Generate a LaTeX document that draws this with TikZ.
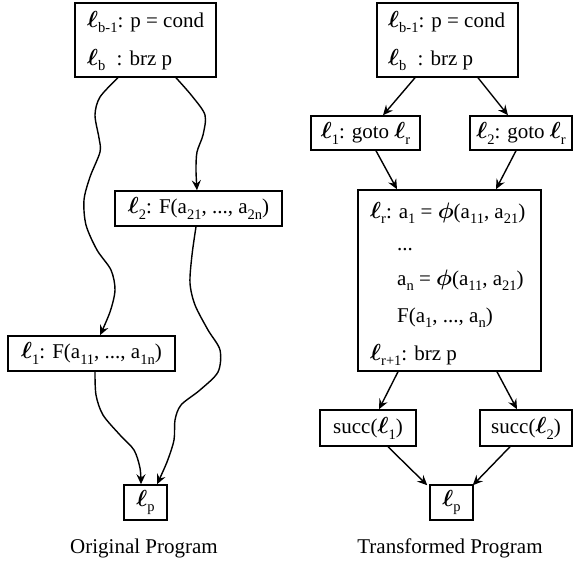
\documentclass[tikz,border=0pt]{standalone}
\usepackage{amsmath,amsbsy}
\usepackage{fontspec}
\setmainfont{Liberation Serif}
\usetikzlibrary{arrows.meta}
\newcommand\SB[1]{\raisebox{-0.28em}{\fontsize{14.5}{15}\selectfont #1}}
\newcommand\LL[1]{\scalebox{1.12}{$\boldsymbol{\ell}$}\SB{#1}}
\newcommand\PH{\scalebox{1.08}{$\boldsymbol{\phi}$}}
\begin{document}
\begin{tikzpicture}[x=1pt,y=-1pt, font=\fontsize{21}{25}\selectfont,
  box/.style={draw, line width=1.5pt, inner sep=0pt},
  arr/.style={line width=1.4pt, -{Stealth[length=10pt,width=9pt,inset=3.5pt]}},
  txt/.style={anchor=base west, inner sep=0pt}]
\useasboundingbox (0,0) rectangle (574,563);

% ---------------- Original program ----------------
\node[box, minimum width=141pt, minimum height=74pt] (topL) at (145.5,40) {};
\node[txt] (topLa) at (87,27) {\LL{b-1}: p = cond};
\node[txt] (topLb) at (87,65) {\LL{b}};
\node[txt] (topLc) at (116.5,65) {: brz p};

\node[box, minimum width=167pt, minimum height=35pt] (l2L) at (198.5,208.5)
  {\LL{2}: F(a\SB{21}, ..., a\SB{2n})};
\node[box, minimum width=167pt, minimum height=35pt] (l1L) at (91.5,353.5)
  {\LL{1}: F(a\SB{11}, ..., a\SB{1n})};
\node[box, minimum width=43pt, minimum height=35pt] (lpL) at (145.5,502.5) {\LL{p}};
\node[anchor=base, inner sep=0pt] (capL) at (144,553) {Original Program};

\coordinate (a0) at ([xshift=-27.5pt]topL.south);
\coordinate (a1) at ([xshift=8.5pt]l1L.north);
\draw[arr] plot[smooth] coordinates {(a0) (100,97) (95,115) (99,138) (100,152) (90,177)
  (84,200) (86,225) (97,250) (111,270) (115,290) (110,312) (a1)};
\coordinate (b0) at ([xshift=30.5pt]topL.south);
\coordinate (b1) at ([xshift=-1.5pt]l2L.north);
\draw[arr] plot[smooth] coordinates {(b0) (192,96) (205,115) (203,135) (197,152) (196,170) (b1)};
\coordinate (c0) at ([xshift=-2.5pt]l2L.south);
\coordinate (c1) at ([xshift=11.5pt]lpL.north);
\draw[arr] plot[smooth] coordinates {(c0) (192,255) (190,283) (195,305) (208,330) (220,350)
  (218,372) (200,390) (181,405) (175,420) (174,440) (167,462) (c1)};
\coordinate (d0) at ([xshift=3.5pt]l1L.south);
\coordinate (d1) at ([xshift=-4.5pt]lpL.north);
\draw[arr] plot[smooth] coordinates {(d0) (96,395) (103,415) (120,435) (134,450) (140,468) (d1)};

% ---------------- Transformed program ----------------
\node[box, minimum width=141pt, minimum height=74pt] (topR) at (447.5,40) {};
\node[txt] (topRa) at (388,27) {\LL{b-1}: p = cond};
\node[txt] (topRb) at (388,65) {\LL{b}};
\node[txt] (topRc) at (417.5,65) {: brz p};

\node[box, minimum width=109pt, minimum height=34pt] (g1) at (365.5,133) {\LL{1}: goto \LL{r}};
\node[box, minimum width=102pt, minimum height=34pt] (g2) at (521,133) {\LL{2}: goto \LL{r}};

\node[box, minimum width=183pt, minimum height=181pt] (big) at (449.5,280.5) {};
\node[txt] (bl1) at (370,218) {\LL{r}: a\SB{1} = \PH(a\SB{11}, a\SB{21})};
\node[txt] (bl2) at (397,250) {...};
\node[txt] (bl3) at (397,285) {a\SB{n} = \PH(a\SB{11}, a\SB{21})};
\node[txt] (bl4) at (397,322) {F(a\SB{1}, ..., a\SB{n})};
\node[txt] (bl5) at (370,360) {\LL{r+1}: brz p};

\node[box, minimum width=96pt, minimum height=36pt] (s1) at (368,428) {succ(\LL{1})};
\node[box, minimum width=92pt, minimum height=36pt] (s2) at (526,428) {succ(\LL{2})};
\node[box, minimum width=43pt, minimum height=35pt] (lpR) at (451.5,502.5) {\LL{p}};
\node[anchor=base, inner sep=0pt] (capR) at (450,553) {Transformed Program};

\draw[arr] ([xshift=-32.5pt]topR.south) -- ([xshift=17.5pt]g1.north);
\draw[arr] ([xshift=30.5pt]topR.south) -- ([xshift=-13pt]g2.north);
\draw[arr] ([xshift=10.5pt]g1.south) -- ([xshift=-52.5pt]big.north);
\draw[arr] ([xshift=-5pt]g2.south) -- ([xshift=46.5pt]big.north);
\draw[arr] ([xshift=-51.5pt]big.south) -- ([xshift=11pt]s1.north);
\draw[arr] ([xshift=47.5pt]big.south) -- ([xshift=-9pt]s2.north);
\draw[arr] ([xshift=20pt]s1.south) -- ([shift={(-2pt,-1pt)}]lpR.north west);
\draw[arr] ([xshift=-16pt]s2.south) -- ([shift={(-1pt,-1pt)}]lpR.north east);
\end{tikzpicture}
\end{document}
